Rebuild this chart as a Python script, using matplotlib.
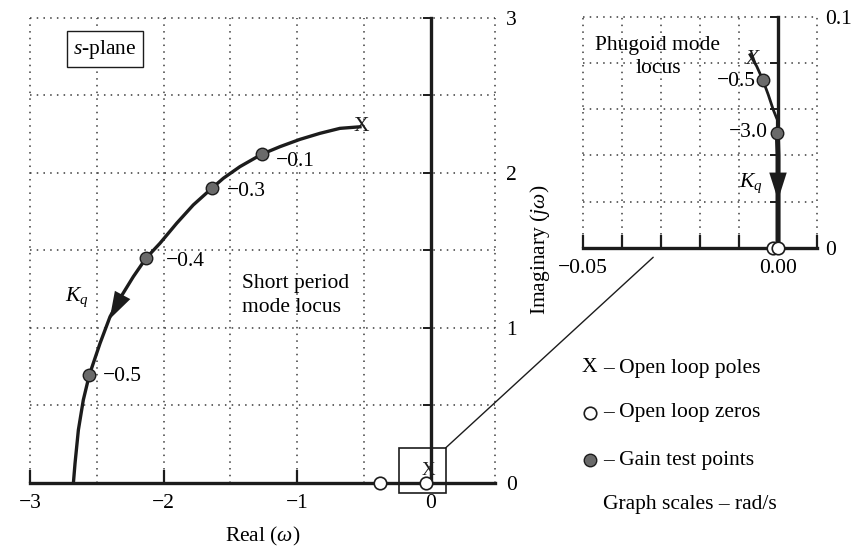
import matplotlib
matplotlib.use('Agg')
import matplotlib.pyplot as plt
from matplotlib.patches import Rectangle, ConnectionPatch
from matplotlib.lines import Line2D

plt.rcParams['font.family'] = ['Liberation Serif', 'DejaVu Serif']
plt.rcParams['mathtext.fontset'] = 'custom'
plt.rcParams['mathtext.rm'] = 'Liberation Serif'
plt.rcParams['mathtext.it'] = 'Liberation Serif:italic'
plt.rcParams['axes.unicode_minus'] = True

# ---------------- data: short period locus (main plane) ----------------
sp_re = [-0.518, -0.681, -0.830, -0.980, -1.129, -1.266, -1.429, -1.553, -1.640,
         -1.778, -1.902, -2.027, -2.132, -2.227, -2.326, -2.401, -2.476, -2.556,
         -2.601, -2.638, -2.663, -2.675]
sp_im = [2.297, 2.286, 2.254, 2.215, 2.168, 2.119, 2.039, 1.964, 1.899,
         1.792, 1.674, 1.545, 1.448, 1.329, 1.190, 1.071, 0.899, 0.695,
         0.534, 0.340, 0.125, 0.0]
sp_pole = (-0.518, 2.297)
sp_gain_re = [-1.266, -1.640, -2.132, -2.556]
sp_gain_im = [2.119, 1.899, 1.448, 0.695]
sp_gain_lbl = ['\u22120.1', '\u22120.3', '\u22120.4', '\u22120.5']
main_zero_re = [-0.38, -0.04]
main_zero_im = [0.0, 0.0]
main_ph_pole = (-0.02, 0.08)
main_arrow_tail = (-2.345, 1.150)
main_arrow_tip = (-2.414, 1.039)
zoom_box = (-0.24, -0.066, 0.11, 0.224)   # x0, y0, x1, y1

main_xticks = [-3, -2, -1, 0]
main_xticklabels = ['\u22123', '\u22122', '\u22121', '0']
main_yticks = [0, 1, 2, 3]
main_yticklabels = ['0', '1', '2', '3']

# ---------------- data: phugoid locus (inset) ----------------
ph_re = [-0.00718, -0.00546, -0.00392, -0.00249, -0.00121, -0.00018, -0.00018, 0.0, 0.0]
ph_im = [0.0835, 0.0785, 0.0727, 0.0662, 0.0597, 0.0554, 0.0497, 0.040, 0.0]
ph_pole = (-0.0067, 0.0814)
ph_gain_re = [-0.0039, -0.0002]
ph_gain_im = [0.0727, 0.0497]
ph_gain_lbl = ['\u22120.5', '\u22123.0']
ph_zero_re = [-0.0013, 0.0]
ph_zero_im = [0.0, 0.0]
ph_arrow_tail = (0.0, 0.0290)
ph_arrow_tip = (0.0, 0.0195)
connector_end = (-0.032, -0.004)

in_xticks = [-0.05, -0.04, -0.03, -0.02, -0.01, 0.0, 0.01]
in_xticklabels = ['\u22120.05', '', '', '', '', '0.00', '']
in_yticks = [0, 0.1]
in_yticklabels = ['0', '0.1']

FS = 15.5
INK = '#1c1c1c'
GRAY = '#6a6a6a'
grid_kw = dict(linestyle=(0, (1, 3.4)), linewidth=1.1, color='#3a3a3a')

fig = plt.figure(figsize=(8.51, 5.47), dpi=100)

# ======================= main s-plane =======================
ax = fig.add_axes([30/851, (547-482.7)/547, 465/851, 465/547])
ax2 = ax.twinx()
ax.set_xlim(-3, 0.48)
ax.set_ylim(0, 3)
for s in ('top', 'left'):
    ax.spines[s].set_visible(False)
ax.spines['bottom'].set_linewidth(2.4)
ax.spines['bottom'].set_color(INK)
ax.spines['right'].set_position(('data', 0))
ax.spines['right'].set_linewidth(2.4)
ax.spines['right'].set_color(INK)
ax.yaxis.set_ticks_position('right')
ax.set_xticks(main_xticks)
ax.set_xticklabels(main_xticklabels, fontsize=FS)
ax.set_xticks([-2.5, -1.5, -0.5], minor=True)
ax.set_yticks([0, 0.5, 1, 1.5, 2, 2.5, 3])
ax.tick_params(axis='x', which='major', direction='in', length=9.5, width=1.6,
               color=INK, pad=8)
ax.tick_params(axis='x', which='minor', length=0)
ax.tick_params(axis='y', direction='in', length=6, width=1.4, color=INK,
               labelright=False, labelleft=False, left=False, right=True)
ax.grid(which='both', **grid_kw)
for gl in ax.get_xgridlines() + ax.get_ygridlines():
    gl.set_clip_on(False)
ax.axvline(ax.get_xlim()[1], clip_on=False, **grid_kw)
ax.set_xlabel('Real ($\\omega$)', fontsize=FS, labelpad=9)

ax2.set_ylim(0, 3)
for s in ax2.spines.values():
    s.set_visible(False)
ax2.set_yticks(main_yticks)
ax2.set_yticklabels(main_yticklabels, fontsize=FS)
ax2.tick_params(axis='y', length=0, pad=8)
ax2.set_ylabel('Imaginary ($j\\omega$)', fontsize=FS, labelpad=8)

ax.plot(sp_re, sp_im, color=INK, lw=2.4, solid_capstyle='butt', zorder=3)
ax.text(sp_pole[0], sp_pole[1], 'X', fontsize=FS, ha='center', va='center',
        color=INK, zorder=5)
ax.plot(sp_gain_re, sp_gain_im, 'o', ms=9, mfc=GRAY, mec=INK, mew=1.0, zorder=5)
lbl_off = [(10, -5), (11, -2.4), (14, -2.4), (10, -1)]
for x, y, t, off in zip(sp_gain_re, sp_gain_im, sp_gain_lbl, lbl_off):
    ax.annotate(t, (x, y), xytext=off, textcoords='offset points',
                fontsize=FS, ha='left', va='center')
ax.annotate('', xy=main_arrow_tip, xytext=main_arrow_tail,
            arrowprops=dict(arrowstyle='-|>,head_length=1.1,head_width=0.35',
                            color=INK, lw=0, mutation_scale=18), zorder=6)
ax.plot(main_zero_re, main_zero_im, 'o', ms=9, mfc='white', mec=INK, mew=1.2,
        clip_on=False, zorder=6)
ax.text(main_ph_pole[0], main_ph_pole[1], 'X', fontsize=FS - 2, ha='center',
        va='center', color=INK, zorder=5)
ax.add_patch(Rectangle((zoom_box[0], zoom_box[1]), zoom_box[2]-zoom_box[0],
                       zoom_box[3]-zoom_box[1], fill=False, lw=1.2, ec=INK,
                       clip_on=False, zorder=4))

ax.text(-2.438, 2.798, '$s$-plane', fontsize=FS, ha='center', va='center',
        bbox=dict(boxstyle='square,pad=0.3', fc='white', ec=INK, lw=1.0))
ax.text(-1.414, 1.208, 'Short period\nmode locus', fontsize=FS, ha='left',
        va='center', linespacing=1.3)
ax.text(-2.648, 1.198, '$K_q$', fontsize=FS, ha='center', va='center')

# ======================= inset (phugoid) =======================
axi = fig.add_axes([583/851, (547-248)/547, 234/851, 231.5/547])
axi2 = axi.twinx()
axi.set_xlim(-0.05, 0.01)
axi.set_ylim(0, 0.1)
for s in ('top', 'left'):
    axi.spines[s].set_visible(False)
axi.spines['bottom'].set_linewidth(2.4)
axi.spines['bottom'].set_color(INK)
axi.spines['right'].set_position(('data', 0))
axi.spines['right'].set_linewidth(2.4)
axi.spines['right'].set_color(INK)
axi.yaxis.set_ticks_position('right')
axi.set_xticks(in_xticks)
axi.set_xticklabels(in_xticklabels, fontsize=FS)
axi.set_yticks([0, 0.02, 0.04, 0.06, 0.08, 0.1])
axi.tick_params(axis='x', direction='in', length=9.5, width=1.6, color=INK, pad=8)
axi.tick_params(axis='y', direction='in', length=6, width=1.4, color=INK,
                labelright=False, labelleft=False, left=False, right=True)
axi.grid(which='both', **grid_kw)
for gl in axi.get_xgridlines() + axi.get_ygridlines():
    gl.set_clip_on(False)

axi2.set_ylim(0, 0.1)
for s in axi2.spines.values():
    s.set_visible(False)
axi2.set_yticks(in_yticks)
axi2.set_yticklabels(in_yticklabels, fontsize=FS)
axi2.tick_params(axis='y', length=0, pad=6)

axi.plot(ph_re[:7], ph_im[:7], color=INK, lw=2.0, zorder=3)
axi.plot(ph_re[6:], ph_im[6:], color=INK, lw=3.6, zorder=3)
axi.text(ph_pole[0], ph_pole[1], 'X', fontsize=FS, ha='center', va='center',
         color=INK, style='italic', zorder=5)
axi.plot(ph_gain_re, ph_gain_im, 'o', ms=9, mfc=GRAY, mec=INK, mew=1.0, zorder=5)
in_off = [(-5, -1), (-7, 0)]
for x, y, t, off in zip(ph_gain_re, ph_gain_im, ph_gain_lbl, in_off):
    axi.annotate(t, (x, y), xytext=off, textcoords='offset points',
                 fontsize=FS, ha='right', va='center')
axi.annotate('', xy=ph_arrow_tip, xytext=ph_arrow_tail,
             arrowprops=dict(arrowstyle='-|>,head_length=1.1,head_width=0.35',
                             color=INK, lw=0, mutation_scale=18), zorder=6)
axi.plot(ph_zero_re, ph_zero_im, 'o', ms=9, mfc='white', mec=INK, mew=1.2,
         clip_on=False, zorder=6)
axi.text(-0.0308, 0.0825, 'Phugoid mode\nlocus', fontsize=FS, ha='center',
         va='center', linespacing=1.3)
axi.text(-0.0069, 0.0281, '$K_q$', fontsize=FS, ha='center', va='center')

con = ConnectionPatch(xyA=(zoom_box[2], zoom_box[3]), coordsA=ax.transData,
                      xyB=connector_end, coordsB=axi.transData,
                      color=INK, lw=1.0)
fig.add_artist(con)

# ======================= key =======================
kx_sym, kx_txt = 589.5/851, 603/851
rows = [368, 413, 460, 505]
fig.text(kx_sym, 1 - rows[0]/547, 'X', fontsize=FS, ha='center', va='center')
fig.add_artist(Line2D([kx_sym], [1 - rows[1]/547], marker='o', ms=9,
                      mfc='white', mec=INK, mew=1.2, transform=fig.transFigure))
fig.add_artist(Line2D([kx_sym], [1 - rows[2]/547], marker='o', ms=9,
                      mfc=GRAY, mec=INK, mew=1.0, transform=fig.transFigure))
fig.text(kx_txt, 1 - rows[0]/547, '\u2013 Open loop poles', fontsize=FS, va='center')
fig.text(kx_txt, 1 - rows[1]/547, '\u2013 Open loop zeros', fontsize=FS, va='center')
fig.text(kx_txt, 1 - rows[2]/547, '\u2013 Gain test points', fontsize=FS, va='center')
fig.text(kx_txt, 1 - rows[3]/547, 'Graph scales \u2013 rad/s', fontsize=FS, va='center')

fig.savefig('out.png', dpi=100)
